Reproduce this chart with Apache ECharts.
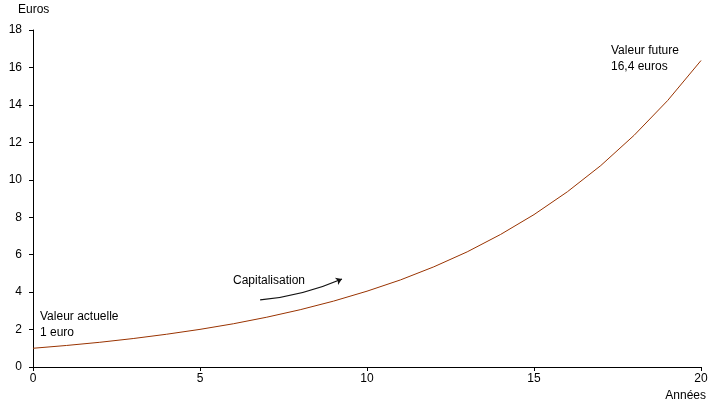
<!DOCTYPE html>
<html><head><meta charset="utf-8">
<script src="https://cdn.jsdelivr.net/npm/echarts@6/dist/echarts.min.js"></script>
<style>html,body{margin:0;padding:0;background:#fff}#c{width:713px;height:409px}</style>
</head><body><div id="c"></div>
<script>
const years = [0,1,2,3,4,5,6,7,8,9,10,11,12,13,14,15,16,17,18,19,20];
const values = [1.00,1.15,1.32,1.52,1.75,2.01,2.31,2.66,3.06,3.52,4.05,4.65,5.35,6.15,7.08,8.14,9.36,10.76,12.38,14.23,16.37];
const arrowFrom = [6.8, 3.58];
const arrowTo = [9.25, 4.70];
const yTicks = {min:0, max:18, interval:2};
const xTicks = {min:0, max:20, interval:5};

const chart = echarts.init(document.getElementById('c'));
const font = 'Liberation Sans, Arial, sans-serif';
chart.setOption({
  animation:false,
  grid:{left:33, right:12, top:30, bottom:42},
  xAxis:{type:'value', min:xTicks.min, max:xTicks.max, interval:xTicks.interval,
    axisLine:{lineStyle:{color:'#000', width:1}},
    axisTick:{show:true, length:4, lineStyle:{color:'#000'}},
    axisLabel:{color:'#000', fontSize:12, fontFamily:font, margin:6},
    splitLine:{show:false}},
  yAxis:{type:'value', min:yTicks.min, max:yTicks.max, interval:yTicks.interval,
    axisLine:{show:true, lineStyle:{color:'#000', width:1}},
    axisTick:{show:true, length:4, lineStyle:{color:'#000'}},
    axisLabel:{color:'#000', fontSize:12, fontFamily:font, margin:11},
    splitLine:{show:false}},
  series:[
    {type:'line', data: years.map((x,i)=>[x, values[i]]), showSymbol:false,
      lineStyle:{color:'#993300', width:1}, silent:true},
    {type:'lines', coordinateSystem:'cartesian2d', silent:true,
      symbol:['none','arrow'], symbolSize:6,
      itemStyle:{color:'#111'},
      lineStyle:{color:'#111', width:1.3, opacity:1, curveness:-0.08},
      data:[{coords:[arrowFrom, arrowTo]}]}
  ],
  graphic:[
    {type:'text', left:18, top:4, style:{text:'Euros', fill:'#000', font:'12px '+font}},
    {type:'text', right:7, top:390, style:{text:'Années', fill:'#000', font:'12px '+font}},
    {type:'text', left:40, top:309, style:{text:'Valeur actuelle\n1 euro', fill:'#000', font:'12px '+font, lineHeight:16}},
    {type:'text', left:611, top:43, style:{text:'Valeur future\n16,4 euros', fill:'#000', font:'12px '+font, lineHeight:16}},
    {type:'text', left:233, top:275, style:{text:'Capitalisation', fill:'#000', font:'12px '+font}}
  ]
});
</script></body></html>
